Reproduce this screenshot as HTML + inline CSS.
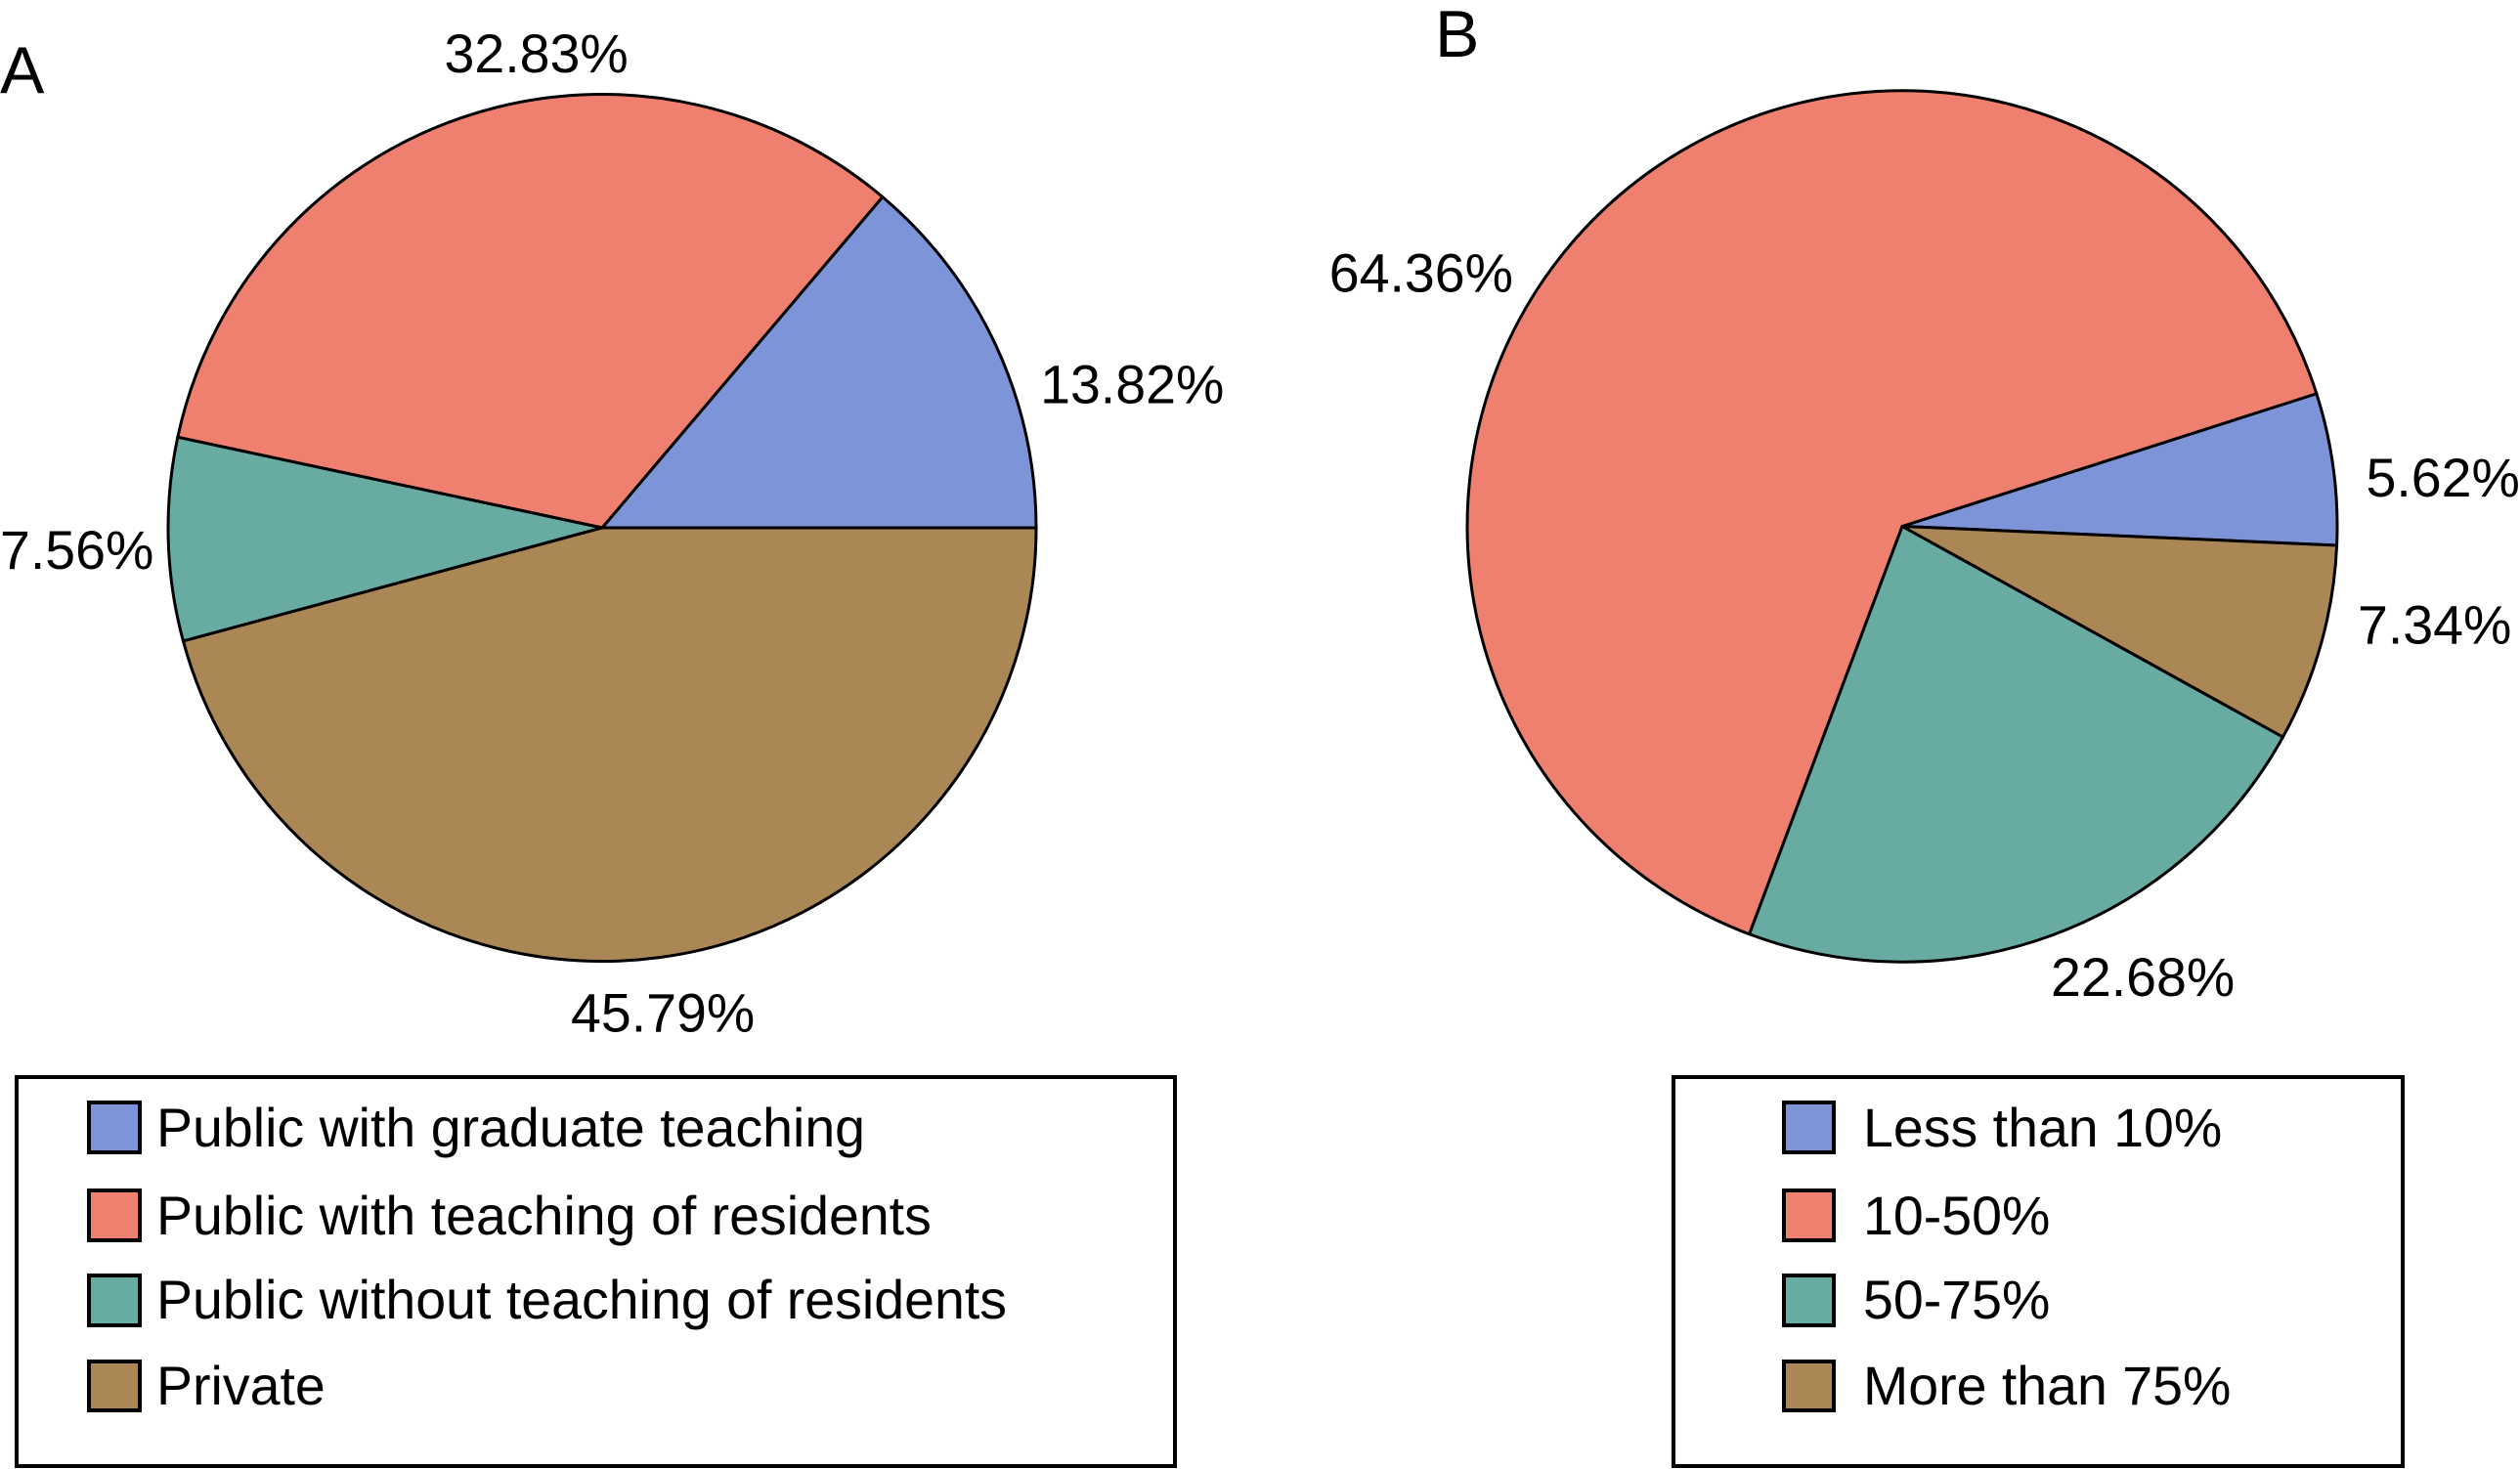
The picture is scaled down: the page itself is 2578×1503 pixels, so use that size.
<!DOCTYPE html>
<html lang="en">
<head>
<meta charset="utf-8">
<title>Pie charts A and B</title>
<style>
html,body{margin:0;padding:0;background:#fff;width:2578px;height:1503px;overflow:hidden}
svg{display:block}
text{font-family:"Liberation Sans",sans-serif;fill:#000}
.val{font-size:55.5px}
.leg{font-size:55.5px}
.panel{font-size:68px}
.box{fill:#fff;stroke:#000;stroke-width:4}
.sw{stroke:#000;stroke-width:4}
</style>
</head>
<body>
<svg id="figure" xmlns="http://www.w3.org/2000/svg" width="2578" height="1503" viewBox="0 0 2578 1503">
  <rect width="2578" height="1503" fill="#fff"/>
  <text class="panel" x="0" y="95">A</text>
  <text class="panel" x="1468" y="58">B</text>
  <g id="pie-a"></g>
  <g id="pie-b"></g>

  <g>
    <rect class="box" x="17" y="1102" width="1185" height="398"/>
    <g>
      <rect class="sw" x="91" y="1128" width="52" height="51" fill="#7e94d8"/>
      <text class="leg" x="160" y="1173">Public with graduate teaching</text>
    </g>
    <g>
      <rect class="sw" x="91" y="1218" width="52" height="51" fill="#ef806f"/>
      <text class="leg" x="160" y="1263">Public with teaching of residents</text>
    </g>
    <g>
      <rect class="sw" x="91" y="1305" width="52" height="51" fill="#67aba3"/>
      <text class="leg" x="160" y="1349">Public without teaching of residents</text>
    </g>
    <g>
      <rect class="sw" x="91" y="1393" width="52" height="50" fill="#aa8755"/>
      <text class="leg" x="160" y="1437">Private</text>
    </g>
  </g>

  <g>
    <rect class="box" x="1712" y="1102" width="746" height="398"/>
    <g>
      <rect class="sw" x="1825" y="1128" width="51" height="51" fill="#7e94d8"/>
      <text class="leg" x="1906" y="1173">Less than 10%</text>
    </g>
    <g>
      <rect class="sw" x="1825" y="1218" width="51" height="51" fill="#ef806f"/>
      <text class="leg" x="1906" y="1263">10-50%</text>
    </g>
    <g>
      <rect class="sw" x="1825" y="1305" width="51" height="51" fill="#67aba3"/>
      <text class="leg" x="1906" y="1349">50-75%</text>
    </g>
    <g>
      <rect class="sw" x="1825" y="1393" width="51" height="50" fill="#aa8755"/>
      <text class="leg" x="1906" y="1437">More than 75%</text>
    </g>
  </g>
</svg>
<script>
const categoriesA = ["Public with graduate teaching", "Public with teaching of residents", "Public without teaching of residents", "Private"];
const valuesA = [13.82, 32.83, 7.56, 45.79];
const printedA = ["13.82%", "32.83%", "7.56%", "45.79%"];
const categoriesB = ["Less than 10%", "10-50%", "50-75%", "More than 75%"];
const valuesB = [5.62, 64.36, 22.68, 7.34];
const printedB = ["5.62%", "64.36%", "22.68%", "7.34%"];
const colors = ["#7e94d8", "#ef806f", "#67aba3", "#aa8755"];
const NS = "http://www.w3.org/2000/svg";

// value -> angle (counter-clockwise, degrees) axis function
function angleScale(values, startDeg) {
  const total = values.reduce(function (a, b) { return a + b; }, 0);
  return function (cum) { return startDeg + cum / total * 360; };
}
function polar(geom, deg, k) {
  const t = deg * Math.PI / 180;
  return [geom.cx + k * geom.rx * Math.cos(t), geom.cy - k * geom.ry * Math.sin(t)];
}
function drawPie(group, geom, values, printed, categories, nudges) {
  const toAngle = angleScale(values, geom.start);
  let cum = 0;
  values.forEach(function (v, i) {
    const a0 = toAngle(cum);
    const a1 = toAngle(cum + v);
    const mid = (a0 + a1) / 2;
    cum += v;
    const p0 = polar(geom, a0, 1);
    const p1 = polar(geom, a1, 1);
    const large = (a1 - a0) > 180 ? 1 : 0;
    const path = document.createElementNS(NS, "path");
    path.setAttribute("d", "M" + geom.cx + " " + geom.cy + "L" + p0[0] + " " + p0[1] +
      "A" + geom.rx + " " + geom.ry + " 0 " + large + " 0 " + p1[0] + " " + p1[1] + "Z");
    path.setAttribute("fill", colors[i]);
    path.setAttribute("stroke", "#000");
    path.setAttribute("stroke-width", "3");
    path.setAttribute("stroke-linejoin", "round");
    
    
    const tip = document.createElementNS(NS, "title");
    tip.textContent = categories[i];
    path.appendChild(tip);
    group.appendChild(path);

    const anchor = polar(geom, mid, 1.1);
    const label = document.createElementNS(NS, "text");
    label.setAttribute("class", "val");
    label.setAttribute("x", anchor[0] + nudges[i][0]);
    label.setAttribute("y", anchor[1] + nudges[i][1]);
    
    
    label.textContent = printed[i];
    group.appendChild(label);
  });
}
const geomA = { cx: 616, cy: 540, rx: 444, ry: 443.5, start: 0 };
const geomB = { cx: 1946, cy: 538.5, rx: 445, ry: 445.7, start: -2.5 };
const labelNudgeA = [[5, 77.5], [-3.7, -4.1], [-127.8, 28.8], [-96.4, 31.8]];
const labelNudgeB = [[-10.7, 34.5], [-248.8, 115.4], [-17.4, 20.7], [-5.2, -12.6]];
drawPie(document.getElementById("pie-a"), geomA, valuesA, printedA, categoriesA, labelNudgeA);
drawPie(document.getElementById("pie-b"), geomB, valuesB, printedB, categoriesB, labelNudgeB);
</script>
</body>
</html>
